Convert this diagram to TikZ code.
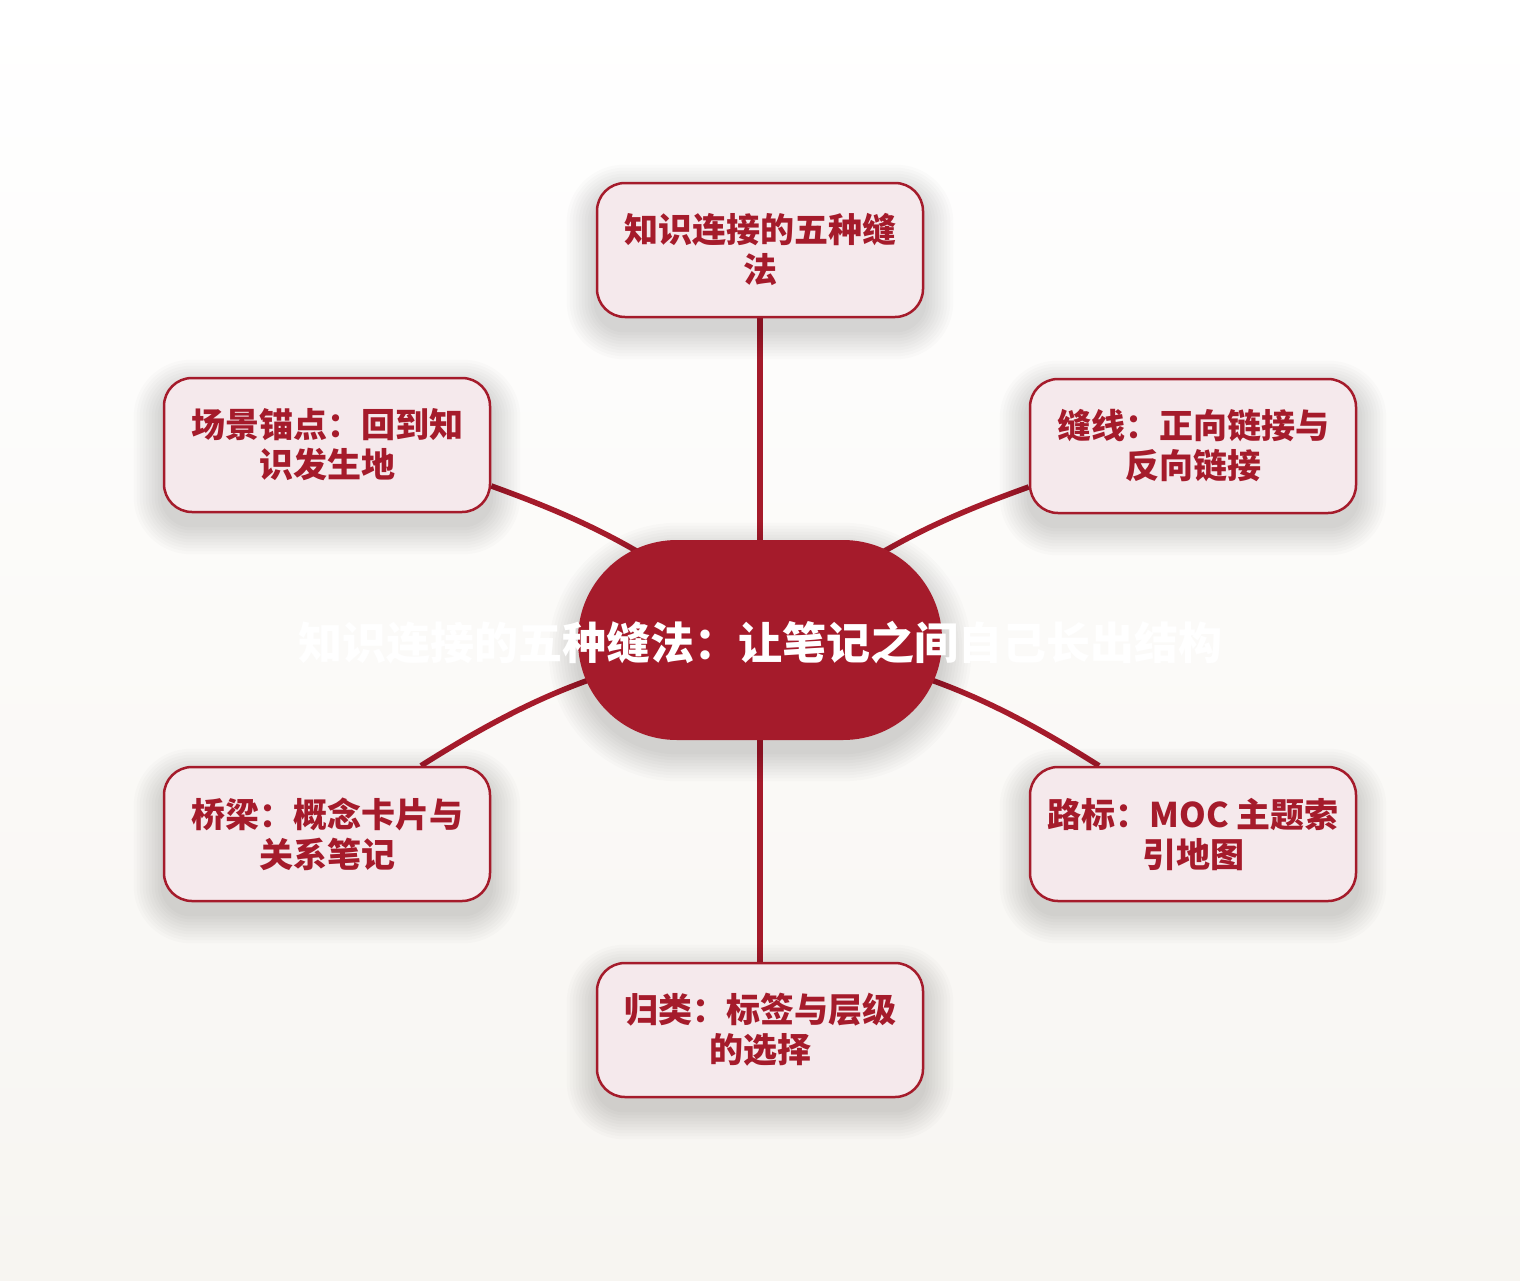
\documentclass[tikz,border=0pt]{standalone}
\usepackage{fontspec}
\setmainfont{Noto Sans CJK SC}
\usetikzlibrary{backgrounds}
\definecolor{crimson}{HTML}{A51B2B}
\definecolor{blush}{HTML}{F5E9EC}
\definecolor{paper}{HTML}{F7F5F1}

\begin{document}
\begin{tikzpicture}[x=1pt,y=-1pt]
    % `topic' is used for the five outer boxes.
    % `hub' is the filled centre shape, `caption' its white text.
    % `link' is used for the lines from the centre.
    \tikzstyle{topic} = [draw=crimson,fill=blush,line width=2.5pt,rounded corners=28pt,minimum width=326pt,minimum height=134pt,align=center,text=crimson,font=\bfseries\fontsize{34}{40}\selectfont]
    \tikzstyle{hub} = [fill=crimson,rounded corners=99pt,minimum width=364pt,minimum height=200pt]
    \tikzstyle{caption} = [text=white,font=\bfseries\fontsize{44}{52}\selectfont]
    \tikzstyle{link} = [draw=crimson,line width=5.5pt]
    %
    \useasboundingbox (0,0) rectangle (1520,1280);
    \node[hub] (hub) at (760,640) {};
    \node[topic] (root) at (760,250) {知识连接的五种缝\\法};
    \node[topic] (anchor) at (327,445) {场景锚点：回到知\\识发生地};
    \node[topic] (seam) at (1193,446) {缝线：正向链接与\\反向链接};
    \node[topic] (bridge) at (327,834) {桥梁：概念卡片与\\关系笔记};
    \node[topic] (signpost) at (1193,834) {路标：MOC 主题索\\引地图};
    \node[topic] (sorting) at (760,1030) {归类：标签与层级\\的选择};
    \node[caption] (title) at (760,643) {知识连接的五种缝法：让笔记之间自己长出结构};
    %
    \begin{pgfonlayer}{background}
        % Draw background paper.
        \fill[top color=white,bottom color=paper] (0,0) rectangle (1520,1280);
        % Draw lines.
        \draw[link] (hub.center) -- (root);
        \draw[link] (hub.center) to[bend right=10] (anchor.-14);
        \draw[link] (hub.center) to[bend left=10] (seam.194);
        \draw[link] (hub.center) to[bend right=12] (bridge.36);
        \draw[link] (hub.center) to[bend left=12] (signpost.144);
        \draw[link] (hub.center) -- (sorting);
        % Draw soft shadows.
        \foreach \n/\r in {root/28,anchor/28,seam/28,bridge/28,signpost/28,sorting/28,hub/99}
            \foreach \g in {2,5,...,29}
                \fill[black,opacity=0.014,rounded corners=\r pt+\g pt]
                    ([xshift=-\g pt,yshift=\g pt-12pt]\n.north west) rectangle ([xshift=\g pt,yshift=-\g pt-12pt]\n.south east);
    \end{pgfonlayer}
\end{tikzpicture}
\end{document}
